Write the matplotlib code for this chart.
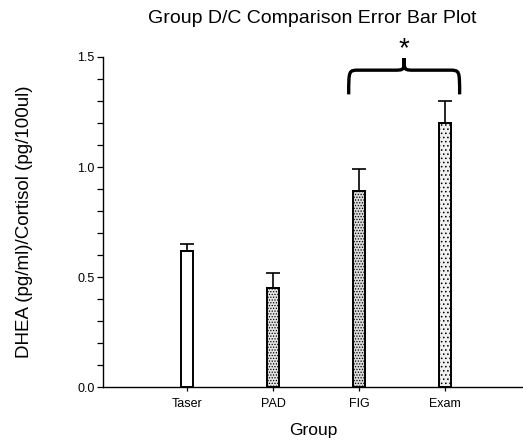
import matplotlib
matplotlib.use("Agg")
import matplotlib.pyplot as plt
from matplotlib.path import Path
from matplotlib.patches import PathPatch

plt.rcParams['font.family'] = ['Liberation Sans', 'DejaVu Sans']
plt.rcParams['hatch.color'] = '#a8a8a8'
plt.rcParams['hatch.linewidth'] = 0.6

groups = ["Taser", "PAD", "FIG", "Exam"]
means = [0.62, 0.45, 0.89, 1.20]
errors = [0.03, 0.07, 0.10, 0.10]
fills = ["#ffffff", "#e4e4e4", "#dadada", "#f0f0f0"]
hatches = [None, "......", "......", "...."]

fig = plt.figure(figsize=(5.23, 4.45), dpi=100)
ax = fig.add_axes([0.197, 0.130, 0.803, 0.742])

xs = list(range(1, len(groups) + 1))
for x, m, e, c, h in zip(xs, means, errors, fills, hatches):
    ax.bar(x, m, width=0.14, color=c, edgecolor="black", linewidth=1.4,
           hatch=h, zorder=2)
    ax.errorbar(x, m, yerr=[[0], [e]], fmt="none", ecolor="black",
                elinewidth=1.2, capsize=5, capthick=1.2, zorder=3)

ax.set_xlim(0.023, 4.907)
ax.set_ylim(0, 1.5)
ax.set_xticks(xs)
ax.set_xticklabels(groups, fontsize=9)
ax.set_yticks([0.0, 0.5, 1.0, 1.5])
ax.set_yticklabels(["0.0", "0.5", "1.0", "1.5"], fontsize=9)
ax.set_yticks([v / 10 for v in range(16)], minor=True)
ax.tick_params(axis="y", which="both", direction="out", length=4, width=0.9,
               pad=2)
ax.tick_params(axis="x", direction="out", length=3, width=0.9, pad=5)

for s in ("top", "right"):
    ax.spines[s].set_visible(False)
ax.spines["left"].set_linewidth(1.0)
ax.spines["bottom"].set_linewidth(1.0)

ax.set_xlabel("Group", fontsize=12.5, labelpad=9)
ax.set_ylabel("DHEA (pg/ml)/Cortisol (pg/100ul)", fontsize=13.5, labelpad=32)
fig.text(0.597, 0.958, "Group D/C Comparison Error Bar Plot",
         ha="center", va="center", fontsize=14)

# Curly brace over FIG and Exam with significance star
x0, x1 = 2.88, 4.17
xm = (x0 + x1) / 2
yb, yt, yp = 1.33, 1.44, 1.495
d = 0.12
verts = [
    (x0, yb), (x0, yt), (x0, yt), (x0 + d, yt),
    (xm - d, yt),
    (xm, yt), (xm, yt), (xm, yp),
    (xm, yt), (xm, yt), (xm + d, yt),
    (x1 - d, yt),
    (x1, yt), (x1, yt), (x1, yb),
]
codes = [Path.MOVETO, Path.CURVE4, Path.CURVE4, Path.CURVE4,
         Path.LINETO,
         Path.CURVE4, Path.CURVE4, Path.CURVE4,
         Path.CURVE4, Path.CURVE4, Path.CURVE4,
         Path.LINETO,
         Path.CURVE4, Path.CURVE4, Path.CURVE4]
brace = PathPatch(Path(verts, codes), facecolor="none", edgecolor="black",
                  linewidth=2.4, clip_on=False, zorder=4)
ax.add_patch(brace)
ax.text(xm, 1.535, "*", ha="center", va="center", fontsize=20,
        clip_on=False)

fig.savefig("out.png", dpi=100)
